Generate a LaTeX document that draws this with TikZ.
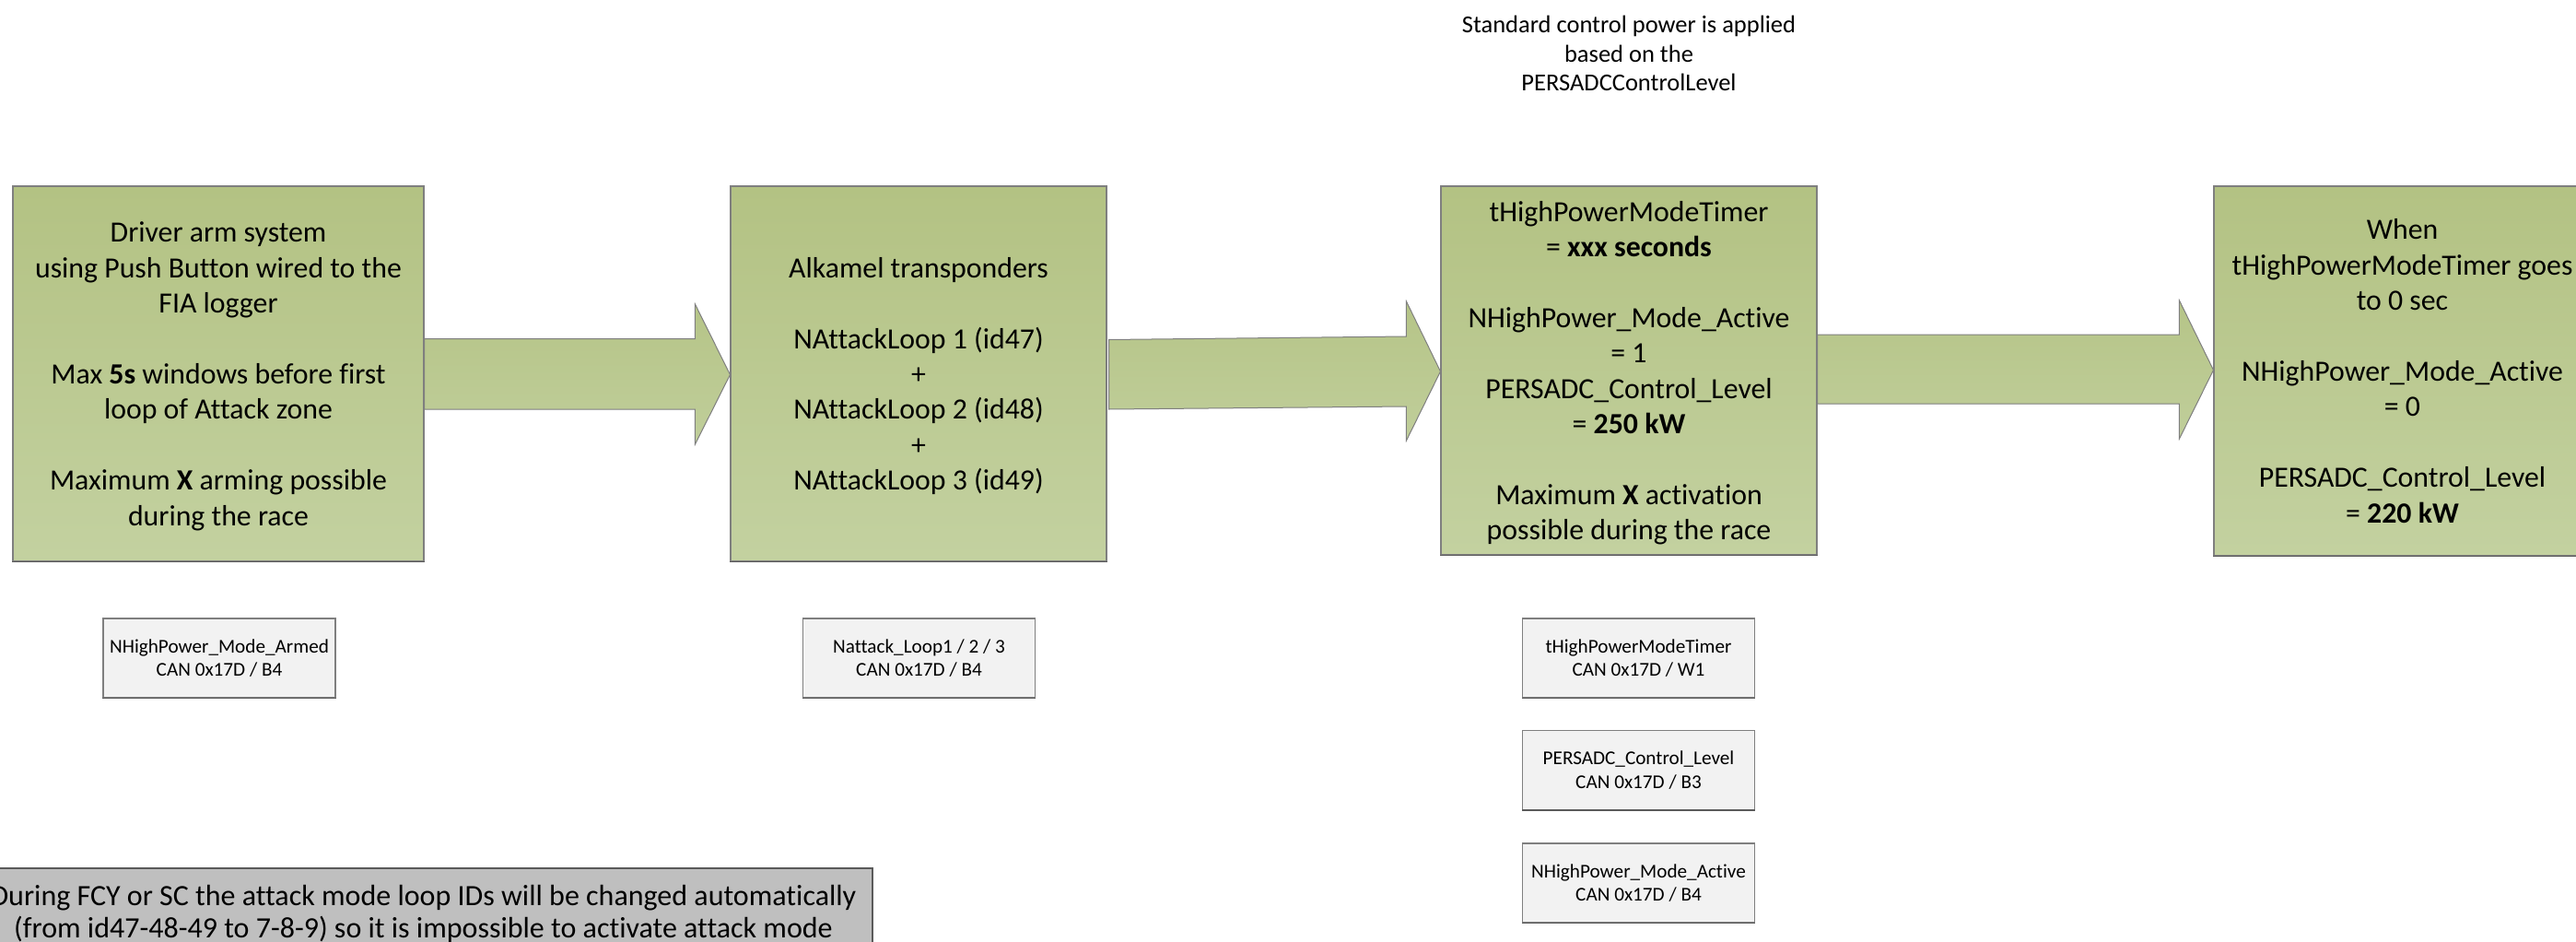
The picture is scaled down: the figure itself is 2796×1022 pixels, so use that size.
\documentclass[tikz,border=0pt]{standalone}
\usepackage{fontspec}
\setmainfont{Carlito}[Ligatures={NoCommon}]
\usetikzlibrary{calc}
\definecolor{gtop}{HTML}{B3C283}
\definecolor{gbot}{HTML}{C3D1A0}
\definecolor{bord}{HTML}{7F7F7F}
\definecolor{shad}{HTML}{5A5A5A}
\definecolor{smallfill}{HTML}{F2F2F2}
\definecolor{notefill}{HTML}{BFBFBF}
\newcommand\topstrut{\rule{0pt}{33.5pt}}
\begin{document}
\begin{tikzpicture}[x=1pt,y=-1pt,
  greenbox/.style={draw=bord, line width=1.1pt, top color=gtop, bottom color=gbot,
    align=center, inner sep=0pt, font=\fontsize{31.8}{38.4}\selectfont},
  sigbox/.style={draw=bord, line width=1.1pt, fill=smallfill, align=center, inner sep=0pt,
    minimum width=252pt, minimum height=86pt, font=\fontsize{21.2}{25.5}\selectfont},
  notebox/.style={draw=shad, line width=1.3pt, fill=notefill, align=center, inner sep=0pt,
    minimum width=975pt, minimum height=99pt, font=\fontsize{32}{35}\selectfont},
  toptext/.style={align=center, inner sep=0pt, font=\fontsize{26.5}{31.5}\selectfont},
  arrowfill/.style={draw=bord, line width=1pt, top color=gtop!85!gbot, bottom color=gtop!20!gbot},
  shadowline/.style={draw=shad, line width=1.8pt}
]
\useasboundingbox (0,0) rectangle (2796,1022);
\clip (0,0) rectangle (2796,1022);

% top caption
\node[toptext] (cap) at (1768,58) {Standard control power is applied\\based on the\\PERSADCControlLevel};

% main green boxes
\node[greenbox, minimum width=446pt, minimum height=407pt] (b1) at (237,405.5)
  {\topstrut Driver arm system\\using Push Button wired to the\\FIA logger\\\mbox{}\\Max \textbf{5s} windows before first\\loop of Attack zone\\\mbox{}\\Maximum \textbf{X} arming possible\\during the race\strut};
\node[greenbox, minimum width=408pt, minimum height=407pt] (b2) at (997,405.5)
  {\topstrut Alkamel transponders\\\mbox{}\\NAttackLoop 1 (id47)\\+\\NAttackLoop 2 (id48)\\+\\NAttackLoop 3 (id49)\strut};
\node[greenbox, minimum width=408pt, minimum height=400pt] (b3) at (1768,402)
  {\topstrut tHighPowerModeTimer\\= \textbf{xxx seconds}\\\mbox{}\\NHighPower\_Mode\_Active\\= 1\\PERSADC\_Control\_Level\\= \textbf{250 kW}\\\mbox{}\\Maximum \textbf{X} activation\\possible during the race\strut};
\node[greenbox, minimum width=409pt, minimum height=401pt] (b4) at (2607.5,402.5)
  {\topstrut When\\tHighPowerModeTimer goes\\to 0 sec\\\mbox{}\\NHighPower\_Mode\_Active\\= 0\\\mbox{}\\PERSADC\_Control\_Level\\= \textbf{220 kW}\strut};

\foreach \b in {b1,b2,b3,b4}{\draw[shadowline] (\b.south west) -- (\b.south east);}

% block arrows
\path[arrowfill] ($(b1.east)+(0,-38)$) -- ($(b2.west)+(-38,-38)$) -- ($(b2.west)+(-38,-75.5)$)
  -- ($(b2.west)+(0,1)$) -- ($(b2.west)+(-38,76.5)$) -- ($(b2.west)+(-38,38.5)$)
  -- ($(b1.east)+(0,38.5)$) -- cycle;
\path[arrowfill] ($(b2.east)+(2,-37)$) -- ($(b3.west)+(-37,-37)$) -- ($(b3.west)+(-37,-75)$)
  -- ($(b3.west)+(0,1)$) -- ($(b3.west)+(-37,76)$) -- ($(b3.west)+(-37,39)$)
  -- ($(b2.east)+(2,38.5)$) -- cycle;
\path[arrowfill] ($(b3.east)+(0,-39)$) -- ($(b4.west)+(-37,-39.5)$) -- ($(b4.west)+(-37,-76.5)$)
  -- ($(b4.west)+(0,-1)$) -- ($(b4.west)+(-37,73.5)$) -- ($(b4.west)+(-37,35.5)$)
  -- ($(b3.east)+(0,36)$) -- cycle;

% signal boxes
\node[sigbox] (sA) at (238,714) {NHighPower\_Mode\_Armed\\CAN 0x17D / B4};
\node[sigbox] (sB) at (997.5,714) {Nattack\_Loop1 / 2 / 3\\CAN 0x17D / B4};
\node[sigbox] (sC) at (1778.5,714) {tHighPowerModeTimer\\CAN 0x17D / W1};
\node[sigbox] (sD) at (1778.5,835.5) {PERSADC\_Control\_Level\\CAN 0x17D / B3};
\node[sigbox] (sE) at (1778.5,958) {NHighPower\_Mode\_Active\\CAN 0x17D / B4};
\foreach \s in {sA,sB,sC,sD,sE}{\draw[shadowline] (\s.south west) -- (\s.south east);}

% note box
\node[notebox] (note) at (459.5,991.5) {During FCY or SC the attack mode loop IDs will be changed automatically\\(from id47-48-49 to 7-8-9) so it is impossible to activate attack mode};
\end{tikzpicture}
\end{document}
